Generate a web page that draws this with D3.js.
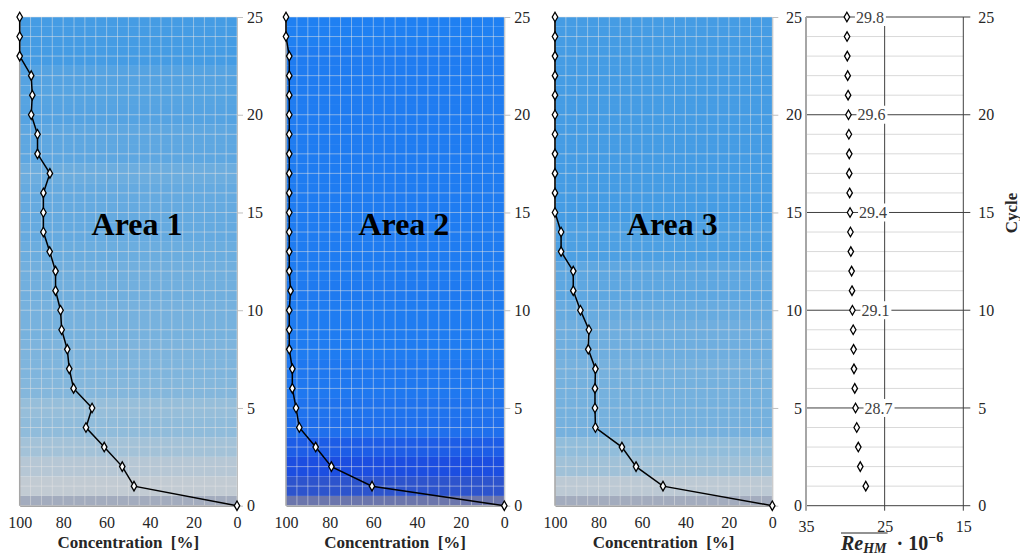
<!DOCTYPE html>
<html>
<head>
<meta charset="utf-8">
<script src="https://cdn.jsdelivr.net/npm/d3@7"></script>
<style>
    body { margin: 0; background: #ffffff; }
    svg text { font-family: "Liberation Serif", "Times New Roman", serif; }
</style>
</head>
<body>
<div id="chart"></div>
<script>
// Cycles shown on the vertical axis
var cycles = [0, 1, 2, 3, 4, 5, 6, 7, 8, 9, 10, 11, 12, 13, 14, 15, 16, 17, 18, 19, 20, 21, 22, 23, 24, 25];

// Concentration [%] per cycle, one array per area
var area1Conc = [0, 47.4, 52.8, 61.1, 69.5, 66.7, 75.2, 77.2, 78.1, 80.7, 81.2, 83.5, 83.5, 86.2, 89.1, 89.1, 89.1, 86.1, 91.8, 91.8, 94.7, 94.2, 94.7, 100, 100, 100];
var area2Conc = [0, 60.6, 79.2, 86.4, 93.9, 95.4, 97.1, 97.1, 98.5, 98.5, 98.5, 97.9, 98.5, 98.5, 98.5, 98.5, 98.5, 98.5, 98.5, 98.5, 98.5, 98.5, 98.5, 98.5, 100, 100];
var area3Conc = [0, 50.3, 62.7, 69.2, 81.4, 81.6, 81.6, 81.4, 84.7, 84.4, 88.3, 91.6, 91.6, 97.2, 97.2, 100, 100, 100, 100, 100, 100, 100, 100, 100, 100, 100];
var areaNames = ["Area 1", "Area 2", "Area 3"];

// Mean Reynolds number (x 10^-6) per cycle, cycles 1..25
var reCycles = [1, 2, 3, 4, 5, 6, 7, 8, 9, 10, 11, 12, 13, 14, 15, 16, 17, 18, 19, 20, 21, 22, 23, 24, 25];
var reValues = [27.4, 28.1, 28.35, 28.55, 28.7, 28.8, 28.9, 28.95, 29.0, 29.1, 29.15, 29.2, 29.3, 29.35, 29.4, 29.45, 29.5, 29.5, 29.55, 29.6, 29.65, 29.7, 29.75, 29.78, 29.8];
var reLabelCycles = [5, 10, 15, 20, 25];

// Tick values
var concTicks = [100, 80, 60, 40, 20, 0];
var cycleTicks = [0, 5, 10, 15, 20, 25];
var reTicks = [35, 25, 15];

var width = 1020, height = 555;
var plotTop = 17, plotBottom = 505.7;
var textColor = "#262626";

var svg = d3.select("#chart").append("svg")
    .attr("width", width)
    .attr("height", height);

// Shared cycle scale
var y = d3.scaleLinear().domain([0, 25]).range([plotBottom, plotTop]);

// Band colours for the backgrounds (depend on concentration)
var colorLight = d3.scaleLinear()
    .domain([0, 47, 70, 90, 100])
    .range(["#a3acbe", "#c3cbd3", "#8fbcdb", "#63a9e0", "#459ce4"]);
var colorDeep = d3.scaleLinear()
    .domain([0, 60, 80, 95, 100])
    .range(["#6c76ac", "#2e54cc", "#1b4ee2", "#1f72ee", "#1f80f2"]);

var panels = [
    { data: area1Conc, x0: 19.7, x1: 237, color: colorLight, labels: true },
    { data: area2Conc, x0: 286, x1: 504.3, color: colorDeep, labels: true },
    { data: area3Conc, x0: 555, x1: 772.3, color: colorLight, labels: false }
];

panels.forEach(function (p, i) {
    var x = d3.scaleLinear().domain([100, 0]).range([p.x0, p.x1]);
    var g = svg.append("g");

    // Background bands, one per cycle
    g.selectAll("rect.band")
        .data(cycles)
        .enter().append("rect")
        .attr("class", "band")
        .attr("x", p.x0)
        .attr("width", p.x1 - p.x0)
        .attr("y", c => y(Math.min(c + 0.5, 25)))
        .attr("height", c => y(Math.max(c - 0.5, 0)) - y(Math.min(c + 0.5, 25)))
        .attr("fill", c => p.color(p.data[c]));

    // Gridlines
    g.selectAll("line.vgrid")
        .data(d3.range(0, 101, 5))
        .enter().append("line")
        .attr("x1", d => x(d)).attr("x2", d => x(d))
        .attr("y1", plotTop).attr("y2", plotBottom)
        .attr("stroke", "#e6e6e6").attr("stroke-opacity", 0.5);
    g.selectAll("line.hgrid")
        .data(cycles)
        .enter().append("line")
        .attr("x1", p.x0).attr("x2", p.x1)
        .attr("y1", d => y(d)).attr("y2", d => y(d))
        .attr("stroke", "#e6e6e6").attr("stroke-opacity", 0.5);

    // Left border
    g.append("line")
        .attr("x1", p.x0).attr("x2", p.x0)
        .attr("y1", plotTop).attr("y2", plotBottom)
        .attr("stroke", "#a6a6a6").attr("stroke-width", 1.5);

    // Bottom axis
    var xAxis = g.append("g")
        .attr("transform", `translate(0, ${plotBottom})`)
        .call(d3.axisBottom(x).tickValues(concTicks).tickSize(0).tickPadding(11));
    xAxis.select(".domain").attr("stroke", "#a6a6a6").attr("stroke-width", 1.5);
    xAxis.selectAll("text").attr("fill", textColor).style("font-size", "16px");

    // Right axis (the last one shares its labels with the Reynolds panel)
    var yAxis = g.append("g")
        .attr("transform", `translate(${p.x1}, 0)`)
        .call(d3.axisRight(y).tickValues(cycleTicks).tickSize(6).tickPadding(4).tickSizeOuter(0));
    yAxis.select(".domain").attr("stroke", "#bfbfbf");
    yAxis.selectAll("line").attr("stroke", "#bfbfbf");
    yAxis.selectAll("text").attr("fill", textColor).style("font-size", "16px");
    if (!p.labels) yAxis.selectAll("text").remove();

    // Line and markers
    var line = d3.line()
        .x(d => x(p.data[d]))
        .y(d => y(d));
    g.append("path")
        .datum(cycles)
        .attr("fill", "none")
        .attr("stroke", "black")
        .attr("stroke-width", 1.5)
        .attr("d", line);
    g.selectAll("path.mark")
        .data(cycles)
        .enter().append("path")
        .attr("class", "mark")
        .attr("transform", d => `translate(${x(p.data[d])}, ${y(d)})`)
        .attr("d", d3.symbol().type(d3.symbolDiamond).size(26))
        .attr("fill", "white")
        .attr("stroke", "black")
        .attr("stroke-width", 1.3);

    // Area name
    g.append("text")
        .attr("x", x(46))
        .attr("y", 235)
        .attr("text-anchor", "middle")
        .style("font-size", "32px")
        .style("font-weight", "bold")
        .attr("fill", "black")
        .text(areaNames[i]);

    // Axis title
    g.append("text")
        .attr("x", (p.x0 + p.x1) / 2)
        .attr("y", 548)
        .attr("text-anchor", "middle")
        .style("font-size", "17px")
        .style("font-weight", "bold")
        .style("white-space", "pre")
        .attr("fill", textColor)
        .text("Concentration  [%]");
});

// Reynolds panel
var xRe = d3.scaleLinear().domain([35, 15]).range([806, 963.3]);
var gRe = svg.append("g");

// Minor and major horizontal gridlines
gRe.selectAll("line.minor")
    .data(cycles.filter(c => c % 5 != 0))
    .enter().append("line")
    .attr("x1", xRe(35)).attr("x2", xRe(15))
    .attr("y1", d => y(d)).attr("y2", d => y(d))
    .attr("stroke", "#d9d9d9");
gRe.selectAll("line.major")
    .data(cycleTicks)
    .enter().append("line")
    .attr("x1", xRe(35)).attr("x2", xRe(15) + 7)
    .attr("y1", d => y(d)).attr("y2", d => y(d))
    .attr("stroke", "#404040");

// Vertical lines at 25 and 15
gRe.selectAll("line.vmajor")
    .data([25, 15])
    .enter().append("line")
    .attr("x1", d => xRe(d)).attr("x2", d => xRe(d))
    .attr("y1", plotTop).attr("y2", plotBottom + 5)
    .attr("stroke", "#404040");

// Left axis line
gRe.append("line")
    .attr("x1", xRe(35)).attr("x2", xRe(35))
    .attr("y1", plotTop).attr("y2", plotBottom + 5)
    .attr("stroke", "#a6a6a6").attr("stroke-width", 2);

// Bottom axis labels
var reXAxis = gRe.append("g")
    .attr("transform", `translate(0, ${plotBottom})`)
    .call(d3.axisBottom(xRe).tickValues(reTicks).tickSize(0).tickPadding(15));
reXAxis.select(".domain").remove();
reXAxis.selectAll("text").attr("fill", textColor).style("font-size", "16px");

// Left and right cycle labels
var reLeft = gRe.append("g")
    .attr("transform", `translate(${xRe(35)}, 0)`)
    .call(d3.axisLeft(y).tickValues(cycleTicks).tickSize(0).tickPadding(4));
reLeft.select(".domain").remove();
reLeft.selectAll("text").attr("fill", textColor).style("font-size", "16px");
var reRight = gRe.append("g")
    .attr("transform", `translate(${xRe(15) + 7}, 0)`)
    .call(d3.axisRight(y).tickValues(cycleTicks).tickSize(0).tickPadding(8));
reRight.select(".domain").remove();
reRight.selectAll("text").attr("fill", textColor).style("font-size", "16px");

// Data labels with white background
var labelG = gRe.selectAll("g.lab")
    .data(reCycles.map((c, i) => ({ c: c, v: reValues[i] })).filter(d => reLabelCycles.indexOf(d.c) >= 0))
    .enter().append("g")
    .attr("transform", d => `translate(${xRe(d.v) + 9}, ${y(d.c)})`);
labelG.append("rect")
    .attr("x", -1).attr("y", -9).attr("width", 31).attr("height", 18)
    .attr("fill", "white");
labelG.append("text")
    .attr("dy", "0.35em")
    .style("font-size", "16px")
    .attr("fill", "#404040")
    .text(d => d3.format(".1f")(d.v));

// Markers
gRe.selectAll("path.remark")
    .data(reCycles)
    .enter().append("path")
    .attr("transform", (d, i) => `translate(${xRe(reValues[i])}, ${y(d)})`)
    .attr("d", d3.symbol().type(d3.symbolDiamond).size(26))
    .attr("fill", "white")
    .attr("stroke", "black")
    .attr("stroke-width", 1.3);

// Reynolds axis title with overline
var reTitle = gRe.append("text")
    .attr("x", 841)
    .attr("y", 550)
    .attr("fill", textColor)
    .style("font-size", "20px")
    .style("font-weight", "bold");
reTitle.append("tspan").style("font-style", "italic").text("Re");
reTitle.append("tspan").style("font-style", "italic").style("font-size", "14px").attr("dy", 3).text("HM");
reTitle.append("tspan").attr("dy", -3).text("  \u00b7 10").style("white-space", "pre");
reTitle.append("tspan").style("font-size", "14px").attr("dy", -8).text("\u22126");
var overEnd = reTitle.node().getEndPositionOfChar(3).x;
gRe.append("line")
    .attr("x1", 841).attr("x2", overEnd + 1)
    .attr("y1", 533).attr("y2", 533)
    .attr("stroke", textColor).attr("stroke-width", 1.2);

// Cycle title
svg.append("text")
    .attr("transform", "translate(1017, 213) rotate(-90)")
    .attr("text-anchor", "middle")
    .style("font-size", "17px")
    .style("font-weight", "bold")
    .attr("fill", textColor)
    .text("Cycle");
</script>
</body>
</html>
